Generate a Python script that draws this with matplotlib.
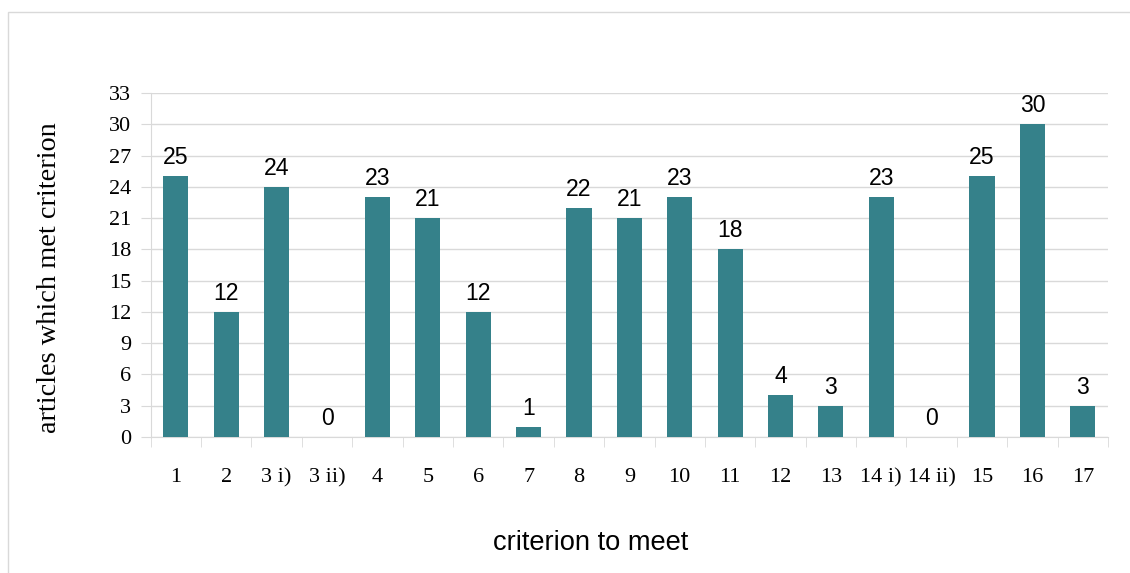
import matplotlib
matplotlib.use("Agg")
import matplotlib.pyplot as plt
from matplotlib.patches import Rectangle
import numpy as np

categories = ["1", "2", "3 i)", "3 ii)", "4", "5", "6", "7", "8", "9", "10",
              "11", "12", "13", "14 i)", "14 ii)", "15", "16", "17"]
articles = [25, 12, 24, 0, 23, 21, 12, 1, 22, 21, 23, 18, 4, 3, 23, 0, 25, 30, 3]
y_ticks = [0, 3, 6, 9, 12, 15, 18, 21, 24, 27, 30, 33]

bar_color = "#35818A"
grid_color = "#D9D9D9"
serif = ["Liberation Serif", "DejaVu Serif"]
sans = ["Liberation Sans", "DejaVu Sans"]

W, H = 1130, 573
fig = plt.figure(figsize=(W / 100, H / 100), dpi=100)

# thin frame around the chart area
fig.patches.append(Rectangle((8 / W, -0.1), 1.2, 1.1 - 12 / H,
                             transform=fig.transFigure, fill=False,
                             edgecolor=grid_color, linewidth=1.0))

ax = fig.add_axes([150.7 / W, 1 - 437 / H, (1108 - 150.7) / W, (437 - 93) / H])

x = np.arange(len(categories))
ax.bar(x, articles, width=0.5, color=bar_color, zorder=3)

for xi, v in zip(x, articles):
    ax.annotate(str(v), (xi, v), xytext=(0, 5), textcoords="offset points",
                ha="center", va="bottom", fontsize=16.6, family=sans, color="black")

ax.set_xlim(-0.5, len(categories) - 0.5)
ax.set_ylim(0, 33)
ax.set_yticks(y_ticks)
ax.set_yticklabels([str(t) for t in y_ticks], fontfamily=serif, fontsize=16)
ax.yaxis.grid(True, color=grid_color, linewidth=1.0, zorder=0)
ax.tick_params(axis="y", length=7, color=grid_color, pad=7)

ax.set_xticks(x)
ax.set_xticklabels(categories, fontfamily=serif, fontsize=16)
ax.set_xticks(np.arange(-0.5, len(categories)), minor=True)
ax.tick_params(axis="x", which="major", length=0, pad=22.5)
ax.tick_params(axis="x", which="minor", length=7, color=grid_color)

for side in ("top", "right"):
    ax.spines[side].set_visible(False)
ax.spines["left"].set_color(grid_color)
ax.spines["bottom"].set_color(grid_color)

fig.text(590.5 / W, 1 - 550 / H, "criterion to meet", family=sans, fontsize=19.6,
         ha="center", va="baseline")
fig.text(50 / W, 1 - 278 / H, "articles which met criterion", family=serif,
         fontsize=20.3, rotation=90, ha="center", va="center")

fig.savefig("out.png", dpi=100)
